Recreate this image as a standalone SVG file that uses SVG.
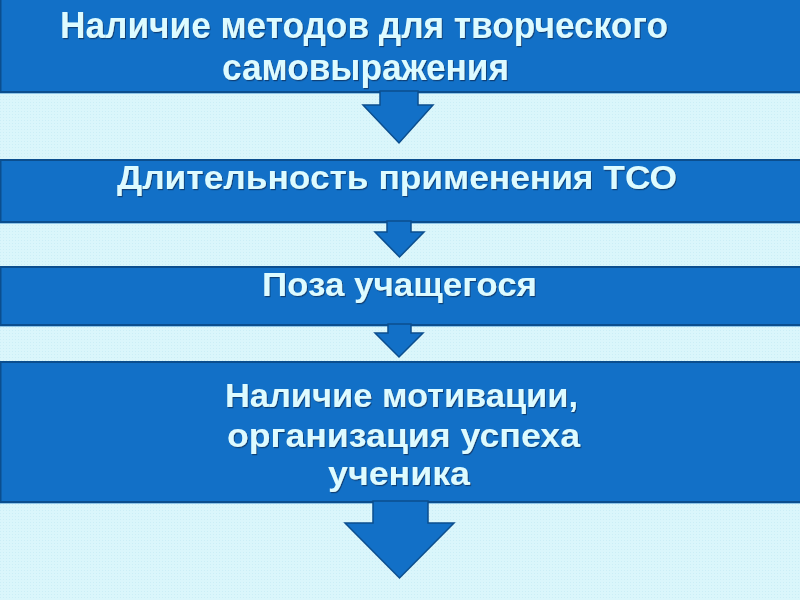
<svg xmlns="http://www.w3.org/2000/svg" width="800" height="600" viewBox="0 0 800 600">
  <defs>
    <pattern id="dots" width="3" height="3" patternUnits="userSpaceOnUse">
      <rect width="3" height="3" fill="#DAF6FB"/>
      <rect width="1" height="1" fill="#CBEEF6"/>
    </pattern>
    <filter id="sh" x="-5%" y="-20%" width="110%" height="140%">
      <feDropShadow dx="1" dy="1.2" stdDeviation="0.6" flood-color="#0A3A6E" flood-opacity="0.9"/>
    </filter>
    <style>
      .box { fill: #1270C7; stroke: #0B4E8E; stroke-width: 2; }
      .edge { stroke: #8CC3E6; stroke-width: 1; }
      .arrow { fill: #1270C7; stroke: #0B4E8E; stroke-width: 1.5; stroke-linejoin: miter; }
      .t { font-family: "Liberation Sans", Arial, sans-serif; font-weight: bold; fill: #DDFBFF; filter: url(#sh); }
    </style>
  </defs>
  <rect x="0" y="0" width="800" height="600" fill="url(#dots)"/>

  <g id="node1">
    <rect class="box" x="0.5" y="-5" width="810" height="97"/>
    <line class="edge" x1="0" y1="93.5" x2="800" y2="93.5"/>
    <text class="t" x="60" y="38" font-size="36" textLength="608" lengthAdjust="spacingAndGlyphs">Наличие методов для творческого</text>
    <text class="t" x="222" y="80" font-size="36" textLength="287" lengthAdjust="spacingAndGlyphs">самовыражения</text>
  </g>

  <g id="node2">
    <rect class="box" x="0.5" y="160" width="810" height="62"/>
    <line class="edge" x1="0" y1="223.5" x2="800" y2="223.5"/>
    <text class="t" x="117" y="189" font-size="34" textLength="560" lengthAdjust="spacingAndGlyphs">Длительность применения ТСО</text>
  </g>

  <g id="node3">
    <rect class="box" x="0.5" y="267" width="810" height="58"/>
    <line class="edge" x1="0" y1="326.5" x2="800" y2="326.5"/>
    <text class="t" x="262" y="296" font-size="33" textLength="275" lengthAdjust="spacingAndGlyphs">Поза учащегося</text>
  </g>

  <g id="node4">
    <rect class="box" x="0.5" y="362" width="810" height="140"/>
    <line class="edge" x1="0" y1="503.5" x2="800" y2="503.5"/>
    <text class="t" x="225" y="407" font-size="34" textLength="353" lengthAdjust="spacingAndGlyphs">Наличие мотивации,</text>
    <text class="t" x="227" y="447" font-size="34" textLength="353" lengthAdjust="spacingAndGlyphs">организация успеха</text>
    <text class="t" x="328" y="485" font-size="34" textLength="142" lengthAdjust="spacingAndGlyphs">ученика</text>
  </g>

  <g id="connectors">
    <polygon class="arrow" points="380,91 380,105 363,105 399,143 433,105 418,105 418,91"/>
    <polygon class="arrow" points="387,221 387,232 375,232 399.5,257 424,232 411,232 411,221"/>
    <polygon class="arrow" points="388,324 388,333 375,333 399,357 423,333 411,333 411,324"/>
    <polygon class="arrow" points="373,501 373,523 345,523 399.5,578 454,523 428,523 428,501"/>
  </g>
</svg>
